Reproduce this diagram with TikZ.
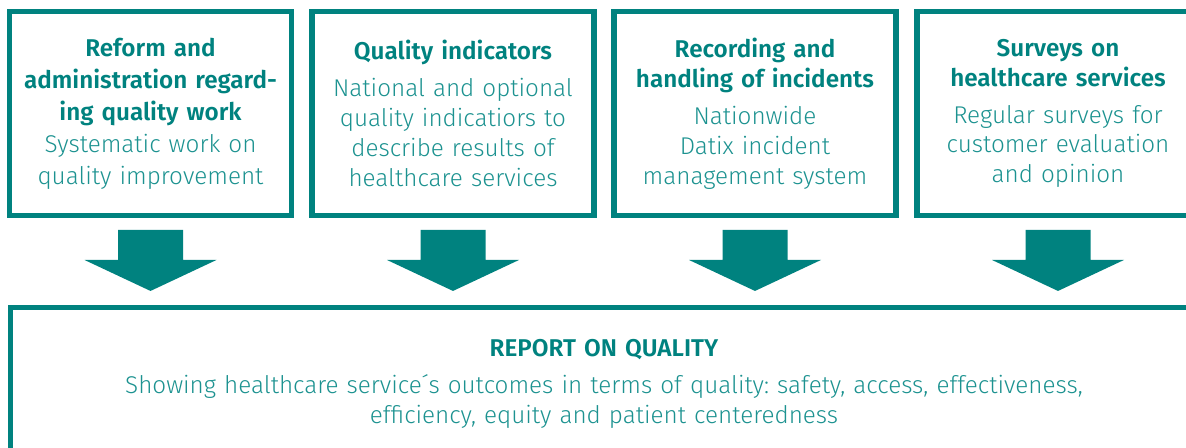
\documentclass[tikz,border=0pt]{standalone}
\usepackage{fontspec}
\setmainfont{Fira Sans}[UprightFont={* Light},BoldFont={* SemiBold}]
\frenchspacing
\definecolor{qteal}{RGB}{0,130,127}
\definecolor{qtext}{RGB}{28,146,144}
\newcommand\qtitle[1]{{\bfseries\color{qteal}#1}}
\tikzset{
	qbox/.style={draw=qteal, line width=3.1pt, minimum width=5.59cm, minimum height=4.07cm, align=center, text width=5.5cm, inner sep=2pt, text=qtext, font=\fontsize{13.8}{17}\selectfont},
	report/.style={qbox, minimum width=23.74cm, minimum height=3.05cm, text width=23cm}
}
\begin{document}
\begin{tikzpicture}[line join=miter]
	\useasboundingbox (0,0) rectangle (23.72,8.96); \clip (0,0) rectangle (23.72,8.96);
	% the four sources
	\node[qbox, font=\fontsize{13.8}{18.2}\selectfont] (b1) at (3.01,6.69) {\qtitle{Reform and\\administration regard-\\ing quality work}\\Systematic work on\\quality improvement};
	\node[qbox] (b2) at (9.06,6.69) {\qtitle{Quality indicators}\\[4pt]National and optional\\quality indicatiors to\\describe results of\\healthcare services};
	\node[qbox] (b3) at (15.10,6.69) {\qtitle{Recording and\\handling of incidents}\\[4pt]Nationwide\\Datix incident\\management system};
	\node[qbox] (b4) at (21.16,6.69) {\qtitle{Surveys on\\healthcare services}\\[4pt]Regular surveys for\\customer evaluation\\and opinion};
	% the report
	\node[report] (rep) at (12.08,1.28) {\qtitle{REPORT ON QUALITY}\\[4pt]Showing healthcare service´s outcomes in terms of quality: safety, access, effectiveness,\\efficiency, equity and patient centeredness};
	% block arrows
	\fill[qteal] (b1.south) ++(-0.65,-0.24) -- ++(1.3,0) -- ++(0,-0.6) -- ++(0.67,0) -- ++(-1.32,-0.62) -- ++(-1.32,0.62) -- ++(0.67,0) -- cycle
		(b2.south) ++(-0.65,-0.24) -- ++(1.3,0) -- ++(0,-0.6) -- ++(0.67,0) -- ++(-1.32,-0.62) -- ++(-1.32,0.62) -- ++(0.67,0) -- cycle
		(b3.south) ++(-0.65,-0.24) -- ++(1.3,0) -- ++(0,-0.6) -- ++(0.67,0) -- ++(-1.32,-0.62) -- ++(-1.32,0.62) -- ++(0.67,0) -- cycle
		(b4.south) ++(-0.65,-0.24) -- ++(1.3,0) -- ++(0,-0.6) -- ++(0.67,0) -- ++(-1.32,-0.62) -- ++(-1.32,0.62) -- ++(0.67,0) -- cycle;
\end{tikzpicture}
\end{document}
